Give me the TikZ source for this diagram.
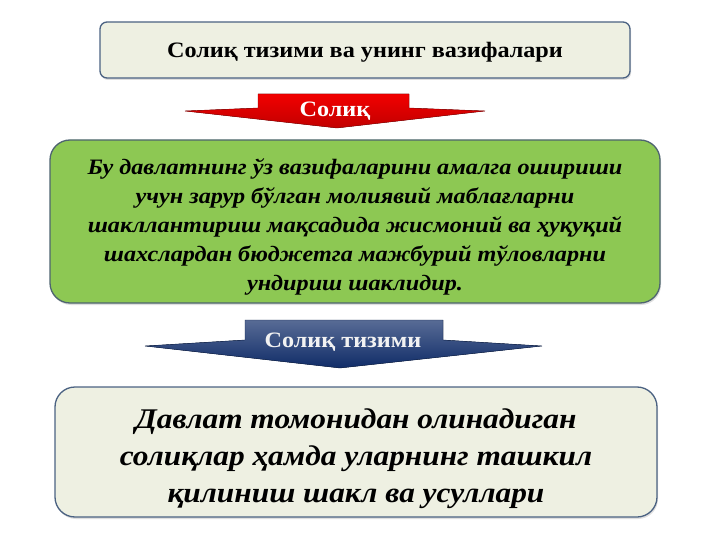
\documentclass[tikz,border=0pt]{standalone}
\usepackage{fontspec}
\setmainfont{Liberation Serif}
\newfontfamily\wideserif[FakeStretch=1.1]{Liberation Serif}
\usetikzlibrary{positioning,shadows}
\definecolor{panelcream}{HTML}{EEF0E2}
\definecolor{paneledge}{HTML}{4B6282}
\definecolor{panelgreen}{HTML}{8DC853}
\definecolor{greenedge}{HTML}{4E6470}
\definecolor{flagred}{HTML}{F20000}
\definecolor{flagnavy}{HTML}{102C68}

\begin{document}
\begin{tikzpicture}[x=1pt, y=-1pt,
    panel/.style={draw=paneledge, line width=1.3pt, fill=panelcream,
      drop shadow={shadow xshift=1pt, shadow yshift=-2pt, opacity=0.25}},
    flag/.style={line join=round}]

  \useasboundingbox (0,0) rectangle (720,540);

  %% title box
  \node[panel, rounded corners=7pt, minimum width=530pt, minimum height=56pt] (title) at (365,50) {};
  \node[font=\wideserif\bfseries\fontsize{22}{26}\selectfont]
    (titletext) at ([yshift=-2pt]title.center) {Солиқ тизими ва унинг вазифалари};

  %% green definition box
  \node[panel, draw=greenedge, fill=panelgreen, rounded corners=20pt,
    minimum width=610pt, minimum height=163pt] (define) at (355,221.5) {};
  \node[align=center, font=\wideserif\bfseries\itshape\fontsize{22}{29}\selectfont]
    (definetext) at ([yshift=-5pt]define.center)
    {Бу давлатнинг ўз вазифаларини амалга ошириши\\
     учун зарур бўлган молиявий маблағларни\\
     шакллантириш мақсадида жисмоний ва ҳуқуқий\\
     шахслардан бюджетга мажбурий тўловларни\\
     ундириш шаклидир.};

  %% bottom box
  \node[panel, rounded corners=20pt, minimum width=602pt, minimum height=130pt] (system) at (356,452) {};
  \node[align=center, font=\wideserif\bfseries\itshape\fontsize{28.5}{37}\selectfont]
    (systemtext) at ([yshift=-7pt]system.center)
    {Давлат томонидан олинадиган\\
     солиқлар ҳамда уларнинг ташкил\\
     қилиниш шакл ва усуллари};

  %% red arrow  title -> define
  \fill[flag, top color=flagred, bottom color=flagred!80!black, draw=flagred!60!black, line width=0.4pt]
    (258,94) -- (409,94) -- (409,108) -- (485,111) -- (337,128) -- (185,111) -- (258,108) -- cycle;
  \node[font=\wideserif\bfseries\fontsize{22}{26}\selectfont, text=white] (taxlabel) at (335,111) {Солиқ};

  %% navy arrow  define -> system
  \fill[flag, top color=flagnavy!70!white, bottom color=flagnavy, draw=flagnavy!70!black, line width=0.4pt]
    (245,320) -- (443,320) -- (443,340) -- (542,346) -- (340,368) -- (145,346) -- (245,340) -- cycle;
  \node[font=\wideserif\bfseries\fontsize{22}{26}\selectfont, text=white!90!gray] (syslabel) at (343,342) {Солиқ тизими};
\end{tikzpicture}
\end{document}
